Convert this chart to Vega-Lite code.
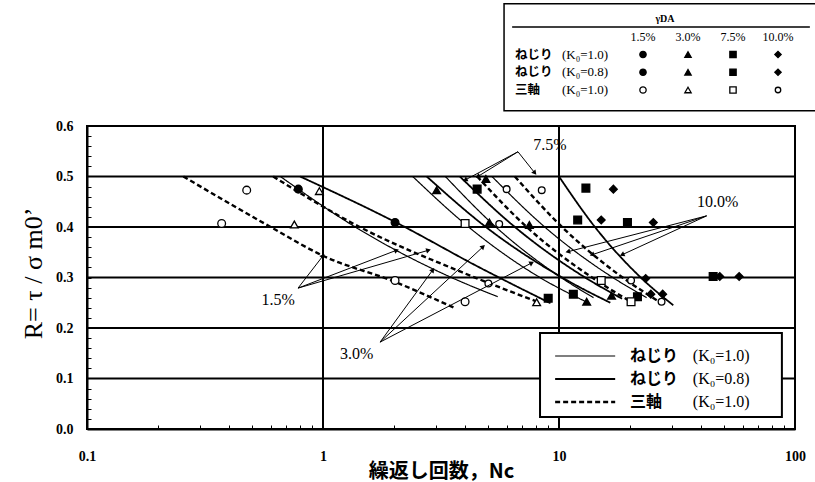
{
  "$schema": "https://vega.github.io/schema/vega-lite/v6.json",
  "width": 708,
  "height": 303,
  "autosize": {"type": "none"},
  "padding": {"left": 87, "top": 126, "right": 20, "bottom": 53},
  "background": "white",
  "config": {
    "view": {"stroke": "black", "strokeWidth": 2},
    "axis": {
      "domainColor": "black",
      "domainWidth": 2,
      "tickColor": "black",
      "tickWidth": 1,
      "tickSize": -4,
      "grid": false,
      "labelColor": "black",
      "titleColor": "black",
      "labelFont": "Liberation Serif",
      "labelFontWeight": "bold",
      "labelFontSize": 14,
      "labelOverlap": false,
      "labelFlush": false,
      "labelBound": false
    }
  },
  "datasets": {
    "gridR": [{"R": 0.1}, {"R": 0.2}, {"R": 0.3}, {"R": 0.4}, {"R": 0.5}],
    "gridN": [{"N": 1}, {"N": 10}],
    "curves": [
      {"id": "a1", "pct": "1.5%", "test": "tri", "N": 0.256, "R": 0.5},
      {"id": "a1", "pct": "1.5%", "test": "tri", "N": 0.6, "R": 0.4},
      {"id": "a1", "pct": "1.5%", "test": "tri", "N": 1.0, "R": 0.343},
      {"id": "a1", "pct": "1.5%", "test": "tri", "N": 2.0, "R": 0.292},
      {"id": "a1", "pct": "1.5%", "test": "tri", "N": 3.6, "R": 0.24},
      {"id": "a2", "pct": "1.5%", "test": "tw10", "N": 0.66, "R": 0.5},
      {"id": "a2", "pct": "1.5%", "test": "tw10", "N": 1.37, "R": 0.4},
      {"id": "a2", "pct": "1.5%", "test": "tw10", "N": 3.5, "R": 0.3},
      {"id": "a2", "pct": "1.5%", "test": "tw10", "N": 5.5, "R": 0.262},
      {"id": "a3", "pct": "1.5%", "test": "tw08", "N": 0.8, "R": 0.5},
      {"id": "a3", "pct": "1.5%", "test": "tw08", "N": 2.02, "R": 0.41},
      {"id": "a3", "pct": "1.5%", "test": "tw08", "N": 4.6, "R": 0.32},
      {"id": "a3", "pct": "1.5%", "test": "tw08", "N": 9.2, "R": 0.249},
      {"id": "b1", "pct": "3.0%", "test": "tri", "N": 0.615, "R": 0.5},
      {"id": "b1", "pct": "3.0%", "test": "tri", "N": 1.43, "R": 0.4},
      {"id": "b1", "pct": "3.0%", "test": "tri", "N": 3.9, "R": 0.31},
      {"id": "b1", "pct": "3.0%", "test": "tri", "N": 8.3, "R": 0.25},
      {"id": "b2", "pct": "3.0%", "test": "tw10", "N": 2.4, "R": 0.5},
      {"id": "b2", "pct": "3.0%", "test": "tw10", "N": 4.14, "R": 0.4},
      {"id": "b2", "pct": "3.0%", "test": "tw10", "N": 8.3, "R": 0.3},
      {"id": "b2", "pct": "3.0%", "test": "tw10", "N": 13, "R": 0.252},
      {"id": "b3", "pct": "3.0%", "test": "tw08", "N": 2.75, "R": 0.5},
      {"id": "b3", "pct": "3.0%", "test": "tw08", "N": 4.9, "R": 0.4},
      {"id": "b3", "pct": "3.0%", "test": "tw08", "N": 10.3, "R": 0.3},
      {"id": "b3", "pct": "3.0%", "test": "tw08", "N": 16.5, "R": 0.25},
      {"id": "c1", "pct": "7.5%", "test": "tri", "N": 4.5, "R": 0.5},
      {"id": "c1", "pct": "7.5%", "test": "tri", "N": 7.3, "R": 0.4},
      {"id": "c1", "pct": "7.5%", "test": "tri", "N": 13.8, "R": 0.3},
      {"id": "c1", "pct": "7.5%", "test": "tri", "N": 20.5, "R": 0.25},
      {"id": "c2", "pct": "7.5%", "test": "tw10", "N": 3.3, "R": 0.5},
      {"id": "c2", "pct": "7.5%", "test": "tw10", "N": 5.4, "R": 0.4},
      {"id": "c2", "pct": "7.5%", "test": "tw10", "N": 10.2, "R": 0.3},
      {"id": "c2", "pct": "7.5%", "test": "tw10", "N": 14, "R": 0.26},
      {"id": "c3", "pct": "7.5%", "test": "tw08", "N": 3.8, "R": 0.5},
      {"id": "c3", "pct": "7.5%", "test": "tw08", "N": 6.5, "R": 0.4},
      {"id": "c3", "pct": "7.5%", "test": "tw08", "N": 12.9, "R": 0.3},
      {"id": "c3", "pct": "7.5%", "test": "tw08", "N": 18.5, "R": 0.258},
      {"id": "d1", "pct": "10.0%", "test": "tri", "N": 6.5, "R": 0.5},
      {"id": "d1", "pct": "10.0%", "test": "tri", "N": 10.3, "R": 0.4},
      {"id": "d1", "pct": "10.0%", "test": "tri", "N": 18.6, "R": 0.3},
      {"id": "d1", "pct": "10.0%", "test": "tri", "N": 27, "R": 0.25},
      {"id": "d2", "pct": "10.0%", "test": "tw10", "N": 5.2, "R": 0.5},
      {"id": "d2", "pct": "10.0%", "test": "tw10", "N": 8.7, "R": 0.4},
      {"id": "d2", "pct": "10.0%", "test": "tw10", "N": 16.9, "R": 0.3},
      {"id": "d2", "pct": "10.0%", "test": "tw10", "N": 23.5, "R": 0.26},
      {"id": "d3", "pct": "10.0%", "test": "tw08", "N": 10, "R": 0.5},
      {"id": "d3", "pct": "10.0%", "test": "tw08", "N": 14.2, "R": 0.4},
      {"id": "d3", "pct": "10.0%", "test": "tw08", "N": 22.2, "R": 0.3},
      {"id": "d3", "pct": "10.0%", "test": "tw08", "N": 30.5, "R": 0.245}
    ],
    "pts": [
      {"pct": "1.5%", "test": "tw10", "N": 0.786, "R": 0.475},
      {"pct": "1.5%", "test": "tw10", "N": 2.02, "R": 0.409},
      {"pct": "3.0%", "test": "tw10", "N": 3.03, "R": 0.473},
      {"pct": "3.0%", "test": "tw08", "N": 4.9, "R": 0.495},
      {"pct": "3.0%", "test": "tw10", "N": 5.07, "R": 0.409},
      {"pct": "3.0%", "test": "tw08", "N": 7.49, "R": 0.404},
      {"pct": "3.0%", "test": "tw10", "N": 13.1, "R": 0.252},
      {"pct": "3.0%", "test": "tw08", "N": 16.7, "R": 0.264},
      {"pct": "7.5%", "test": "tw10", "N": 4.5, "R": 0.475},
      {"pct": "7.5%", "test": "tw08", "N": 13.0, "R": 0.477},
      {"pct": "7.5%", "test": "tw10", "N": 12.0, "R": 0.414},
      {"pct": "7.5%", "test": "tw08", "N": 19.5, "R": 0.409},
      {"pct": "7.5%", "test": "tw10", "N": 9.0, "R": 0.259},
      {"pct": "7.5%", "test": "tw10", "N": 11.5, "R": 0.267},
      {"pct": "7.5%", "test": "tw08", "N": 21.5, "R": 0.262},
      {"pct": "7.5%", "test": "tw08", "N": 45, "R": 0.302},
      {"pct": "10.0%", "test": "tw08", "N": 17.0, "R": 0.475},
      {"pct": "10.0%", "test": "tw10", "N": 15.1, "R": 0.414},
      {"pct": "10.0%", "test": "tw08", "N": 25.1, "R": 0.409},
      {"pct": "10.0%", "test": "tw10", "N": 23.3, "R": 0.298},
      {"pct": "10.0%", "test": "tw10", "N": 24.5, "R": 0.267},
      {"pct": "10.0%", "test": "tw08", "N": 27.5, "R": 0.267},
      {"pct": "10.0%", "test": "tw08", "N": 48, "R": 0.302},
      {"pct": "10.0%", "test": "tw08", "N": 58, "R": 0.302},
      {"pct": "1.5%", "test": "tri", "N": 0.475, "R": 0.473},
      {"pct": "1.5%", "test": "tri", "N": 0.372, "R": 0.407},
      {"pct": "1.5%", "test": "tri", "N": 2.02, "R": 0.294},
      {"pct": "1.5%", "test": "tri", "N": 4.0, "R": 0.252},
      {"pct": "3.0%", "test": "tri", "N": 0.965, "R": 0.471},
      {"pct": "3.0%", "test": "tri", "N": 0.756, "R": 0.405},
      {"pct": "3.0%", "test": "tri", "N": 8.04, "R": 0.251},
      {"pct": "7.5%", "test": "tri", "N": 4.0, "R": 0.407},
      {"pct": "7.5%", "test": "tri", "N": 15.1, "R": 0.294},
      {"pct": "7.5%", "test": "tri", "N": 20.2, "R": 0.252},
      {"pct": "10.0%", "test": "tri", "N": 6.0, "R": 0.475},
      {"pct": "10.0%", "test": "tri", "N": 8.45, "R": 0.473},
      {"pct": "10.0%", "test": "tri", "N": 5.58, "R": 0.406},
      {"pct": "10.0%", "test": "tri", "N": 5.02, "R": 0.288},
      {"pct": "10.0%", "test": "tri", "N": 20.2, "R": 0.294},
      {"pct": "10.0%", "test": "tri", "N": 27.2, "R": 0.252}
    ],
    "arrows": [
      {"pct": "1.5%", "N1": 0.784, "R1": 0.279, "N2": 1.0, "R2": 0.343},
      {"pct": "1.5%", "N1": 0.784, "R1": 0.279, "N2": 2.05, "R2": 0.354},
      {"pct": "1.5%", "N1": 0.784, "R1": 0.279, "N2": 2.8, "R2": 0.354},
      {"pct": "3.0%", "N1": 1.745, "R1": 0.172, "N2": 2.92, "R2": 0.315},
      {"pct": "3.0%", "N1": 1.745, "R1": 0.172, "N2": 4.77, "R2": 0.361},
      {"pct": "3.0%", "N1": 1.745, "R1": 0.172, "N2": 7.67, "R2": 0.329},
      {"pct": "7.5%", "N1": 6.7, "R1": 0.549, "N2": 4.0, "R2": 0.493},
      {"pct": "7.5%", "N1": 6.7, "R1": 0.549, "N2": 4.53, "R2": 0.5},
      {"pct": "7.5%", "N1": 6.7, "R1": 0.549, "N2": 7.9, "R2": 0.507},
      {"pct": "10.0%", "N1": 42.2, "R1": 0.422, "N2": 10.9, "R2": 0.351},
      {"pct": "10.0%", "N1": 42.2, "R1": 0.422, "N2": 13.8, "R2": 0.345},
      {"pct": "10.0%", "N1": 42.2, "R1": 0.422, "N2": 18.5, "R2": 0.345}
    ],
    "tags": [
      {"t": "1.5%", "N": 0.645, "R": 0.255},
      {"t": "3.0%", "N": 1.39, "R": 0.149},
      {"t": "7.5%", "N": 9.15, "R": 0.562},
      {"t": "10.0%", "N": 47, "R": 0.45}
    ],
    "heads": [{"pct": "1.5%"}, {"pct": "3.0%"}, {"pct": "7.5%"}, {"pct": "10.0%"}],
    "rows": [
      {"row": "r1", "test": "tw10", "name": "ねじり", "k": "(K₀=1.0)"},
      {"row": "r2", "test": "tw08", "name": "ねじり", "k": "(K₀=0.8)"},
      {"row": "r3", "test": "tri", "name": "三軸", "k": "(K₀=1.0)"}
    ],
    "keys": [
      {"row": "r1", "test": "tw10", "pct": "1.5%"},
      {"row": "r1", "test": "tw10", "pct": "3.0%"},
      {"row": "r1", "test": "tw10", "pct": "7.5%"},
      {"row": "r1", "test": "tw10", "pct": "10.0%"},
      {"row": "r2", "test": "tw08", "pct": "1.5%"},
      {"row": "r2", "test": "tw08", "pct": "3.0%"},
      {"row": "r2", "test": "tw08", "pct": "7.5%"},
      {"row": "r2", "test": "tw08", "pct": "10.0%"},
      {"row": "r3", "test": "tri", "pct": "1.5%"},
      {"row": "r3", "test": "tri", "pct": "3.0%"},
      {"row": "r3", "test": "tri", "pct": "7.5%"},
      {"row": "r3", "test": "tri", "pct": "10.0%"}
    ]
  },
  "resolve": {"scale": {"x": "independent", "y": "independent"}},
  "layer": [
    {
      "encoding": {
        "x": {
          "field": "N", "type": "quantitative",
          "scale": {"type": "log", "domain": [0.1, 100], "nice": false},
          "axis": {
            "values": [0.1, 0.2, 0.3, 0.4, 0.5, 0.6, 0.7, 0.8, 0.9, 1, 2, 3, 4, 5, 6, 7, 8, 9, 10, 20, 30, 40, 50, 60, 70, 80, 90, 100],
            "labelExpr": "datum.value == 0.1 ? '0.1' : datum.value == 1 ? '1' : datum.value == 10 ? '10' : datum.value == 100 ? '100' : ''",
            "labelPadding": 24,
            "labelOverlap": false,
            "labelFontSize": 14,
            "labelFontWeight": "bold",
            "title": "繰返し回数，Nc",
            "titleFont": "Noto Sans CJK JP",
            "titleFontWeight": "bold",
            "titleFontSize": 20,
            "titleX": 354,
            "titleY": 42,
            "titleAlign": "center",
            "titleBaseline": "middle"
          }
        },
        "y": {
          "field": "R", "type": "quantitative",
          "scale": {"domain": [0, 0.6], "nice": false, "zero": false},
          "axis": {
            "values": [0, 0.02, 0.04, 0.06, 0.08, 0.1, 0.12, 0.14, 0.16, 0.18, 0.2, 0.22, 0.24, 0.26, 0.28, 0.3, 0.32, 0.34, 0.36, 0.38, 0.4, 0.42, 0.44, 0.46, 0.48, 0.5, 0.52, 0.54, 0.56, 0.58, 0.6],
            "labelExpr": "round(datum.value * 100) % 10 == 0 ? format(datum.value, '.1f') : ''",
            "labelPadding": 18,
            "labelOverlap": false,
            "labelFontSize": 14,
            "labelFontWeight": "bold",
            "title": "R= τ / σ m0’",
            "titleFont": "Liberation Serif",
            "titleFontWeight": "normal",
            "titleFontSize": 26,
            "titleX": -54,
            "titleY": 147,
            "titleAngle": -90,
            "titleAlign": "center",
            "titleBaseline": "middle"
          }
        }
      },
      "layer": [
        {
          "data": {"name": "gridR"},
          "mark": {"type": "rule", "color": "black", "strokeWidth": 2},
          "encoding": {"x": null}
        },
        {
          "data": {"name": "gridN"},
          "mark": {"type": "rule", "color": "black", "strokeWidth": 2},
          "encoding": {"y": null}
        },
        {
          "data": {"name": "curves"},
          "mark": {"type": "line", "interpolate": "monotone", "color": "black"},
          "encoding": {
            "detail": {"field": "id"},
            "strokeDash": {"field": "test", "type": "nominal", "scale": {"domain": ["tw10", "tw08", "tri"], "range": [[1, 0], [1, 0], [5, 3]]}, "legend": null},
            "strokeWidth": {"field": "test", "type": "ordinal", "scale": {"domain": ["tw10", "tw08", "tri"], "range": [1.2, 2.4, 1.1]}, "legend": null}
          }
        },
        {
          "data": {"name": "pts"},
          "mark": {"type": "point", "filled": true, "stroke": "black", "strokeWidth": 1.3, "opacity": 1},
          "encoding": {
            "shape": {
              "field": "pct", "type": "nominal",
              "scale": {"domain": ["1.5%", "3.0%", "7.5%", "10.0%"], "range": ["circle", "triangle-up", "square", "diamond"]},
              "legend": null,
              "condition": {"test": "datum.test == 'tri' && datum.pct == '10.0%'", "value": "circle"}
            },
            "fill": {"field": "test", "type": "nominal", "scale": {"domain": ["tw10", "tw08", "tri"], "range": ["black", "black", "white"]}, "legend": null},
            "size": {"condition": {"test": "datum.test == 'tri' && datum.pct == '10.0%'", "value": 45}, "value": 60}
          }
        },
        {
          "data": {"name": "arrows"},
          "transform": [{"calculate": "datum.N1", "as": "N"}, {"calculate": "datum.R1", "as": "R"}],
          "mark": {"type": "rule", "color": "black", "strokeWidth": 1},
          "encoding": {"x2": {"field": "N2"}, "y2": {"field": "R2"}}
        },
        {
          "data": {"name": "arrows"},
          "transform": [
            {"calculate": "datum.N2", "as": "N"},
            {"calculate": "datum.R2", "as": "R"},
            {"calculate": "atan2(236 * log(datum.N2 / datum.N1) / LN10, 505 * (datum.R2 - datum.R1)) * 180 / PI", "as": "ang"}
          ],
          "mark": {"type": "point", "shape": "triangle-up", "filled": true, "color": "black", "size": 30, "opacity": 1},
          "encoding": {
            "angle": {"field": "ang", "type": "quantitative", "scale": null}
          }
        },
        {
          "data": {"name": "tags"},
          "mark": {"type": "text", "font": "Liberation Serif", "fontSize": 16, "color": "black", "align": "center", "baseline": "middle"},
          "encoding": {"text": {"field": "t"}}
        }
      ]
    },
    {
      "layer": [
        {
          "data": {"values": [{}]},
          "mark": {"type": "rect", "fill": "white", "stroke": "black", "strokeWidth": 1.5},
          "encoding": {
            "x": {"datum": 5.85, "type": "quantitative", "scale": {"type": "log", "domain": [0.1, 100], "nice": false}, "axis": null},
            "x2": {"datum": 127},
            "y": {"datum": 0.842, "type": "quantitative", "scale": {"domain": [0, 0.6], "nice": false, "zero": false}, "axis": null},
            "y2": {"datum": 0.63}
          }
        },
        {
          "data": {"values": [{}]},
          "mark": {"type": "rule", "color": "black", "strokeWidth": 1.5},
          "encoding": {
            "x": {"datum": 6.33, "type": "quantitative", "scale": {"type": "log", "domain": [0.1, 100], "nice": false}, "axis": null},
            "x2": {"datum": 115.6},
            "y": {"datum": 0.796, "type": "quantitative", "scale": {"domain": [0, 0.6], "nice": false, "zero": false}, "axis": null}
          }
        },
        {
          "data": {"values": [{}]},
          "mark": {"type": "rect", "fill": "white", "stroke": "black", "strokeWidth": 2},
          "encoding": {
            "x": {"datum": 8.31, "type": "quantitative", "scale": {"type": "log", "domain": [0.1, 100], "nice": false}, "axis": null},
            "x2": {"datum": 88.0},
            "y": {"datum": 0.19, "type": "quantitative", "scale": {"domain": [0, 0.6], "nice": false, "zero": false}, "axis": null},
            "y2": {"datum": 0.0238}
          }
        }
      ]
    },
    {
      "layer": [
        {
          "data": {"values": [{"t": "γDA"}]},
          "mark": {"type": "text", "font": "Liberation Serif", "fontSize": 10, "fontWeight": "bold", "color": "black", "align": "center", "baseline": "middle", "dx": 22},
          "encoding": {
            "x": {"datum": "1.5%", "type": "nominal", "scale": {"type": "point", "domain": ["1.5%", "3.0%", "7.5%", "10.0%"], "range": [556, 691], "padding": 0}, "axis": null},
            "y": {"datum": "title", "type": "nominal", "scale": {"type": "point", "domain": ["title", "head", "r1", "r2", "r3"], "range": [-107, -36], "padding": 0}, "axis": null},
            "text": {"field": "t"}
          }
        },
        {
          "data": {"name": "heads"},
          "mark": {"type": "text", "font": "Liberation Serif", "fontSize": 12, "color": "black", "align": "center", "baseline": "middle"},
          "encoding": {
            "x": {"field": "pct", "type": "nominal", "scale": {"type": "point", "domain": ["1.5%", "3.0%", "7.5%", "10.0%"], "range": [556, 691], "padding": 0}, "axis": null},
            "y": {"datum": "head", "type": "nominal", "scale": {"type": "point", "domain": ["title", "head", "r1", "r2", "r3"], "range": [-107, -36], "padding": 0}, "axis": null},
            "text": {"field": "pct"}
          }
        },
        {
          "data": {"name": "keys"},
          "mark": {"type": "point", "filled": true, "stroke": "black", "strokeWidth": 1.3, "opacity": 1},
          "encoding": {
            "x": {"field": "pct", "type": "nominal", "scale": {"type": "point", "domain": ["1.5%", "3.0%", "7.5%", "10.0%"], "range": [556, 691], "padding": 0}, "axis": null},
            "y": {"field": "row", "type": "nominal", "scale": {"type": "point", "domain": ["title", "head", "r1", "r2", "r3"], "range": [-107, -36], "padding": 0}, "axis": null},
            "shape": {
              "field": "pct", "type": "nominal",
              "scale": {"domain": ["1.5%", "3.0%", "7.5%", "10.0%"], "range": ["circle", "triangle-up", "square", "diamond"]},
              "legend": null,
              "condition": {"test": "datum.test == 'tri' && datum.pct == '10.0%'", "value": "circle"}
            },
            "fill": {"field": "test", "type": "nominal", "scale": {"domain": ["tw10", "tw08", "tri"], "range": ["black", "black", "white"]}, "legend": null},
            "size": {"condition": {"test": "datum.test == 'tri' && datum.pct == '10.0%'", "value": 30}, "value": 40}
          }
        },
        {
          "data": {"name": "rows"},
          "mark": {"type": "text", "font": "Noto Sans CJK JP", "fontWeight": "bold", "fontSize": 12.5, "color": "black", "align": "left", "baseline": "middle", "dx": -128},
          "encoding": {
            "x": {"datum": "1.5%", "type": "nominal", "scale": {"type": "point", "domain": ["1.5%", "3.0%", "7.5%", "10.0%"], "range": [556, 691], "padding": 0}, "axis": null},
            "y": {"field": "row", "type": "nominal", "scale": {"type": "point", "domain": ["title", "head", "r1", "r2", "r3"], "range": [-107, -36], "padding": 0}, "axis": null},
            "text": {"field": "name"}
          }
        },
        {
          "data": {"name": "rows"},
          "mark": {"type": "text", "font": "Liberation Serif", "fontSize": 13, "color": "black", "align": "left", "baseline": "middle", "dx": -81},
          "encoding": {
            "x": {"datum": "1.5%", "type": "nominal", "scale": {"type": "point", "domain": ["1.5%", "3.0%", "7.5%", "10.0%"], "range": [556, 691], "padding": 0}, "axis": null},
            "y": {"field": "row", "type": "nominal", "scale": {"type": "point", "domain": ["title", "head", "r1", "r2", "r3"], "range": [-107, -36], "padding": 0}, "axis": null},
            "text": {"field": "k"}
          }
        }
      ]
    },
    {
      "layer": [
        {
          "data": {"name": "rows"},
          "mark": {"type": "rule", "color": "black"},
          "encoding": {
            "x": {"datum": 9.63, "type": "quantitative", "scale": {"type": "log", "domain": [0.1, 100], "nice": false}, "axis": null},
            "x2": {"datum": 17.3},
            "y": {"field": "row", "type": "nominal", "scale": {"type": "point", "domain": ["r1", "r2", "r3"], "range": [230, 276], "padding": 0}, "axis": null},
            "strokeDash": {"field": "test", "type": "nominal", "scale": {"domain": ["tw10", "tw08", "tri"], "range": [[1, 0], [1, 0], [5, 3]]}, "legend": null},
            "strokeWidth": {"field": "test", "type": "ordinal", "scale": {"domain": ["tw10", "tw08", "tri"], "range": [1.2, 2.4, 1.1]}, "legend": null}
          }
        },
        {
          "data": {"name": "rows"},
          "mark": {"type": "text", "font": "Noto Sans CJK JP", "fontWeight": "bold", "fontSize": 16, "color": "black", "align": "left", "baseline": "middle"},
          "encoding": {
            "x": {"datum": 20.0, "type": "quantitative", "scale": {"type": "log", "domain": [0.1, 100], "nice": false}, "axis": null},
            "y": {"field": "row", "type": "nominal", "scale": {"type": "point", "domain": ["r1", "r2", "r3"], "range": [230, 276], "padding": 0}, "axis": null},
            "text": {"field": "name"}
          }
        },
        {
          "data": {"name": "rows"},
          "mark": {"type": "text", "font": "Liberation Serif", "fontSize": 16, "color": "black", "align": "left", "baseline": "middle"},
          "encoding": {
            "x": {"datum": 36.9, "type": "quantitative", "scale": {"type": "log", "domain": [0.1, 100], "nice": false}, "axis": null},
            "y": {"field": "row", "type": "nominal", "scale": {"type": "point", "domain": ["r1", "r2", "r3"], "range": [230, 276], "padding": 0}, "axis": null},
            "text": {"field": "k"}
          }
        }
      ]
    }
  ]
}
